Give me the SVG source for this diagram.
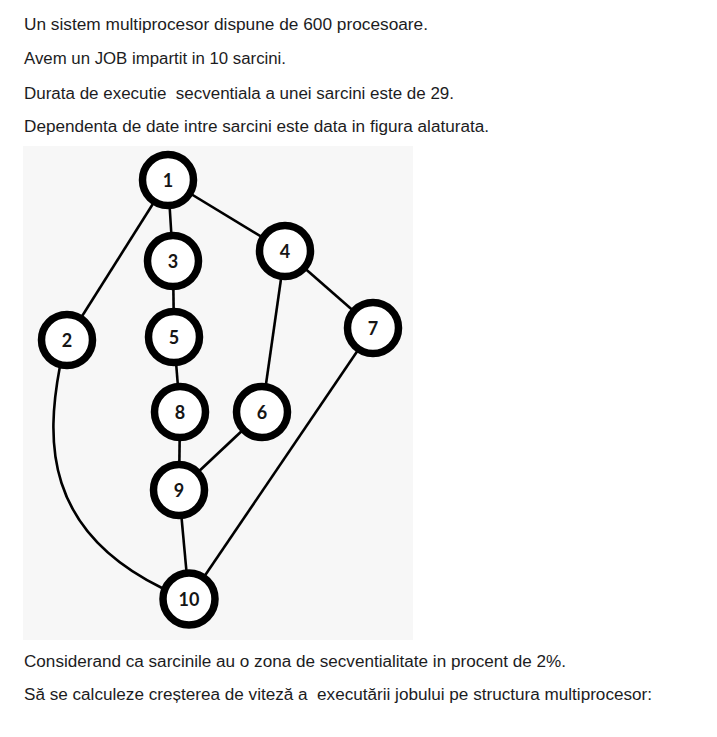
<svg xmlns="http://www.w3.org/2000/svg" width="717" height="737" viewBox="0 0 717 737">
<style>
.t{font-family:"Liberation Sans",Arial,sans-serif;font-size:16px;fill:#1c1c1e}
.e{stroke:#000;stroke-width:2.6;fill:none}
.n circle{fill:#fff;stroke:#000;stroke-width:7.5}
.n text{font-family:Lato,"Open Sans",sans-serif;font-weight:bold;font-size:18px;fill:#151515;text-anchor:middle}
</style>
<rect width="717" height="737" fill="#fff"/>
<g id="text">
<text class="t" x="24" y="30" textLength="404" lengthAdjust="spacingAndGlyphs">Un sistem multiprocesor dispune de 600 procesoare.</text>
<text class="t" x="24" y="64" textLength="262" lengthAdjust="spacingAndGlyphs">Avem un JOB impartit in 10 sarcini.</text>
<text class="t" x="24" y="99" textLength="430" lengthAdjust="spacingAndGlyphs" xml:space="preserve">Durata de executie  secventiala a unei sarcini este de 29.</text>
<text class="t" x="24" y="132" textLength="465" lengthAdjust="spacingAndGlyphs">Dependenta de date intre sarcini este data in figura alaturata.</text>
<text class="t" x="24" y="667" textLength="542" lengthAdjust="spacingAndGlyphs">Considerand ca sarcinile au o zona de secventialitate in procent de 2%.</text>
<text class="t" x="24" y="700" textLength="628" lengthAdjust="spacingAndGlyphs" xml:space="preserve">Să se calculeze creșterea de viteză a  executării jobului pe structura multiprocesor:</text>
</g>
<rect id="figure-bg" x="23" y="146" width="390" height="494" fill="#f7f7f7"/>
<g id="connectors">
<line class="e" x1="168" y1="180" x2="67" y2="340"/>
<line class="e" x1="168" y1="180" x2="173" y2="261"/>
<line class="e" x1="168" y1="180" x2="285" y2="251"/>
<line class="e" x1="173" y1="261" x2="174" y2="337"/>
<line class="e" x1="174" y1="337" x2="180" y2="412"/>
<line class="e" x1="285" y1="251" x2="262" y2="412"/>
<line class="e" x1="285" y1="251" x2="373" y2="328"/>
<line class="e" x1="180" y1="412" x2="179" y2="490"/>
<line class="e" x1="262" y1="412" x2="179" y2="490"/>
<line class="e" x1="179" y1="490" x2="189" y2="599"/>
<line class="e" x1="373" y1="328" x2="189" y2="599"/>
<path class="e" d="M60,366 C46,440 44,530 162,588"/>
</g>
<g id="node1" class="n"><circle cx="168" cy="180" r="25.5"/><text x="168" y="186.5">1</text></g>
<g id="node2" class="n"><circle cx="67" cy="340" r="25.5"/><text x="67" y="346.5">2</text></g>
<g id="node3" class="n"><circle cx="173" cy="261" r="25.5"/><text x="173" y="267.5">3</text></g>
<g id="node4" class="n"><circle cx="285" cy="251" r="25.5"/><text x="285" y="257.5">4</text></g>
<g id="node5" class="n"><circle cx="174" cy="337" r="25.5"/><text x="174" y="343.5">5</text></g>
<g id="node6" class="n"><circle cx="262" cy="412" r="25.5"/><text x="262" y="418.5">6</text></g>
<g id="node7" class="n"><circle cx="373" cy="328" r="25.5"/><text x="373" y="334.5">7</text></g>
<g id="node8" class="n"><circle cx="180" cy="412" r="25.5"/><text x="180" y="418.5">8</text></g>
<g id="node9" class="n"><circle cx="179" cy="490" r="25.5"/><text x="179" y="496.5">9</text></g>
<g id="node10" class="n"><circle cx="189" cy="599" r="26"/><text x="189" y="605.5">10</text></g>
</svg>
